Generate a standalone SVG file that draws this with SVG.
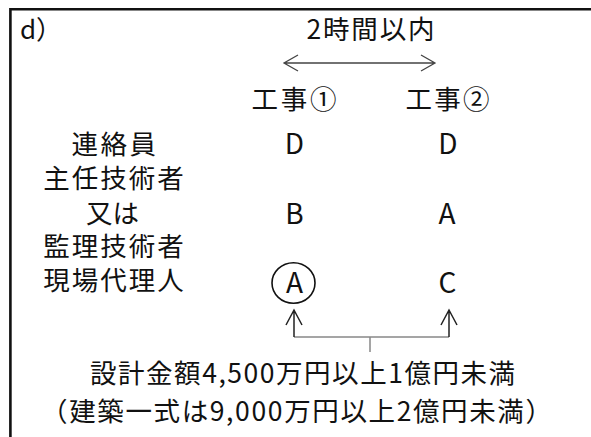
<svg xmlns="http://www.w3.org/2000/svg" width="591" height="437" viewBox="0 0 591 437">
<style>
text{font-family:"Noto Sans CJK JP","Noto Sans",sans-serif;fill:#111;text-anchor:middle;}
.j{font-size:26.5px;}
.l{font-size:28px;}
.frame{stroke:#111;stroke-width:2.6;fill:none;}
.ln{stroke:#444;stroke-width:1.3;fill:none;}
.gr{stroke:#888;stroke-width:1.5;fill:none;}
.ar{stroke:#222;stroke-width:1.5;fill:none;}
</style>
<rect width="591" height="437" fill="#fff"/>
<g id="frame">
<path class="frame" d="M591 9.2H10.4V437"/>
<text x="20" y="39" style="font-size:26px;text-anchor:start">d）</text>
</g>
<g id="header">
<text class="j" x="370.5" y="39" textLength="128" lengthAdjust="spacing">2時間以内</text>
</g>
<g id="connectors">
<path class="ln" d="M284 63H435M298 55L284 63L298 71M421 55L435 63L421 71"/>
<path class="gr" d="M294 337H449M370 337V352"/>
<path class="ar" d="M294 337V310M286 325L294 310L302 325M449 337V310M441 325L449 310L457 325"/>
</g>
<g id="work1">
<text class="j" x="294" y="108.5" textLength="85" lengthAdjust="spacing">工事①</text>
<text class="l" x="294.5" y="154">D</text>
<text class="l" x="294.5" y="224">B</text>
<ellipse cx="293.5" cy="283" rx="21.5" ry="20.3" fill="none" stroke="#111" stroke-width="1.6"/>
<text class="l" x="294.5" y="293">A</text>
</g>
<g id="work2">
<text class="j" x="447.5" y="108.5" textLength="84" lengthAdjust="spacing">工事②</text>
<text class="l" x="448" y="154">D</text>
<text class="l" x="447" y="224">A</text>
<text class="l" x="447.5" y="293">C</text>
</g>
<g id="roles">
<text class="j" style="letter-spacing:2px"><tspan x="115" y="153.5" style="letter-spacing:2.5px">連絡員</tspan><tspan x="114.5" y="187.5">主任技術者</tspan><tspan x="112.5" y="222.5" style="letter-spacing:0">又は</tspan><tspan x="114.5" y="255.5">監理技術者</tspan><tspan x="114.5" y="289.5">現場代理人</tspan></text>
</g>
<g id="condition">
<text class="j" x="302.5" y="382.5" textLength="425" lengthAdjust="spacing">設計金額4,500万円以上1億円未満</text>
<text class="j" x="296.5" y="420.5" textLength="511" lengthAdjust="spacing">（建築一式は9,000万円以上2億円未満）</text>
</g>
</svg>
